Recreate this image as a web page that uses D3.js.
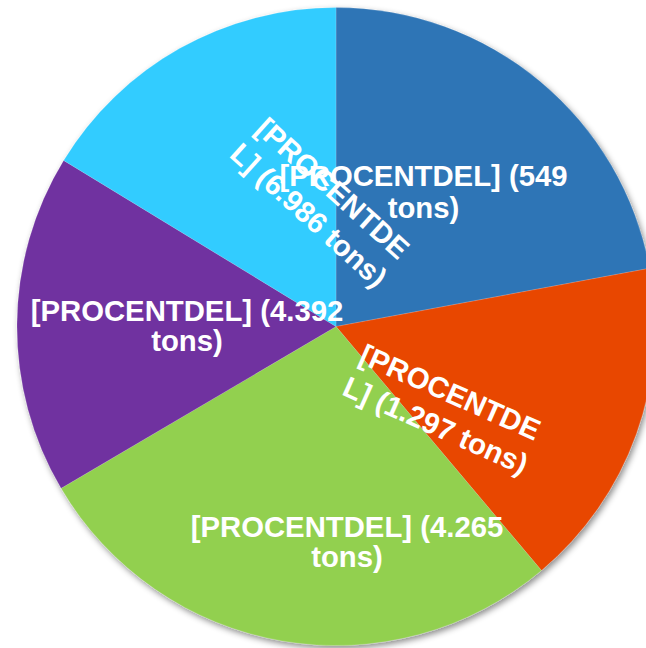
<!DOCTYPE html>
<html>
<head>
<meta charset="utf-8">
<script src="https://cdn.jsdelivr.net/npm/d3@7"></script>
<style>
  html, body { margin: 0; padding: 0; background: #fff; }
  svg { display: block; }
</style>
</head>
<body>
<script>
var w = 646;
var h = 648;

// slice shares and the label values
var shares = [22.1, 16.8, 27.7, 17.2, 16.3];
var tonLabels = ["549", "1.297", "4.265", "4.392", "6.986"];
var colors = ["#2E75B6", "#E84705", "#92D050", "#7030A0", "#33CCFF"];

// label lines as shown (some are wrapped mid-word)
var labelLines = [
    ["[PROCENTDEL] (" + tonLabels[0], "tons)"],
    ["[PROCENTDE", "L] (" + tonLabels[1] + " tons)"],
    ["[PROCENTDEL] (" + tonLabels[2], "tons)"],
    ["[PROCENTDEL] (" + tonLabels[3], "tons)"],
    ["[PROCENTDE", "L] (" + tonLabels[4] + " tons)"]
];

// label layout: offset from pie center, rotation, line gap
var labelLayout = [
    { dx: 87.5, dy: -135, rot: 0, gap: 32 },
    { dx: 107, dy: 82, rot: 24, gap: 36 },
    { dx: 11, dy: 215, rot: 0, gap: 29.5 },
    { dx: -149, dy: -1, rot: 0, gap: 29.5 },
    { dx: -15, dy: -125, rot: 42, gap: 36 }
];

var cx = 336, cy = 326.5, r = 319;

var svg = d3.select("body")
            .append("svg")
            .attr("width", w)
            .attr("height", h);

var defs = svg.append("defs");
var f = defs.append("filter")
            .attr("id", "shadow")
            .attr("x", "-10%").attr("y", "-10%")
            .attr("width", "120%").attr("height", "120%");
f.append("feDropShadow")
 .attr("dx", 2).attr("dy", 3)
 .attr("stdDeviation", 3)
 .attr("flood-color", "#000")
 .attr("flood-opacity", 0.45);

var pie = d3.pie().sort(null).value(function(d) { return d; });
var arc = d3.arc().innerRadius(0).outerRadius(r);

var g = svg.append("g")
           .attr("transform", "translate(" + cx + "," + cy + ")");

g.append("g")
 .attr("filter", "url(#shadow)")
 .selectAll("path")
 .data(pie(shares))
 .enter()
 .append("path")
 .attr("d", arc)
 .attr("fill", function(d, i) { return colors[i]; })
 .attr("stroke", "rgba(255,255,255,0.25)")
 .attr("stroke-width", 0.6);

// one text per label, lines as tspans
var labels = g.selectAll("text.lbl")
              .data(labelLayout)
              .enter()
              .append("text")
              .attr("class", "lbl")
              .attr("transform", function(d) {
                  return "translate(" + d.dx + "," + d.dy + ") rotate(" + d.rot + ")";
              })
              .attr("text-anchor", "middle")
              .attr("font-family", "'Liberation Sans', Arial, sans-serif")
              .attr("font-weight", "bold")
              .attr("font-size", "29.3px")
              .attr("fill", "#fff");

labels.each(function(d, i) {
    d3.select(this).selectAll("tspan")
      .data(labelLines[i])
      .enter()
      .append("tspan")
      .attr("x", 0)
      .attr("y", function(t, j) { return (j - 0.5) * d.gap + 10.5; })
      .text(function(t) { return t; });
});
</script>
</body>
</html>
